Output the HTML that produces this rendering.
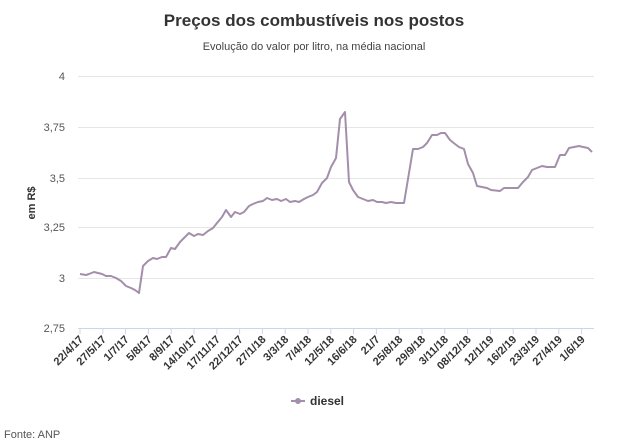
<!DOCTYPE html>
<html><head><meta charset="utf-8"><style>
html,body{margin:0;padding:0;background:#fff;}
svg{display:block;font-family:"Liberation Sans",sans-serif;}
</style></head><body>
<svg width="627" height="447" viewBox="0 0 627 447">
<text x="314" y="26" text-anchor="middle" font-size="17" font-weight="bold" fill="#333">Preços dos combustíveis nos postos</text>
<text x="314" y="50" text-anchor="middle" font-size="11" fill="#444">Evolução do valor por litro, na média nacional</text>
<g stroke="#e6e6e6" stroke-width="1">
<line x1="78" x2="594" y1="76.5" y2="76.5"/>
<line x1="78" x2="594" y1="127.5" y2="127.5"/>
<line x1="78" x2="594" y1="178.5" y2="178.5"/>
<line x1="78" x2="594" y1="227.5" y2="227.5"/>
<line x1="78" x2="594" y1="278.5" y2="278.5"/>
</g>
<line x1="78" x2="594" y1="328.5" y2="328.5" stroke="#ccd6eb"/>
<g font-size="11" fill="#555" text-anchor="end">
<text x="65" y="80">4</text>
<text x="65" y="131">3,75</text>
<text x="65" y="182">3,5</text>
<text x="65" y="231">3,25</text>
<text x="65" y="282">3</text>
<text x="65" y="332">2,75</text>
</g>
<text transform="translate(35,203) rotate(-90)" text-anchor="middle" font-size="11" font-weight="bold" fill="#333">em R$</text>
<g stroke="#ccd6eb">
<line x1="80" x2="80" y1="328" y2="334"/><line x1="102.8" x2="102.8" y1="328" y2="334"/><line x1="125.6" x2="125.6" y1="328" y2="334"/><line x1="148.4" x2="148.4" y1="328" y2="334"/><line x1="171.2" x2="171.2" y1="328" y2="334"/><line x1="194" x2="194" y1="328" y2="334"/><line x1="216.8" x2="216.8" y1="328" y2="334"/><line x1="239.6" x2="239.6" y1="328" y2="334"/><line x1="262.4" x2="262.4" y1="328" y2="334"/><line x1="285.2" x2="285.2" y1="328" y2="334"/><line x1="308" x2="308" y1="328" y2="334"/><line x1="330.8" x2="330.8" y1="328" y2="334"/><line x1="353.6" x2="353.6" y1="328" y2="334"/><line x1="376.4" x2="376.4" y1="328" y2="334"/><line x1="399.2" x2="399.2" y1="328" y2="334"/><line x1="422" x2="422" y1="328" y2="334"/><line x1="444.8" x2="444.8" y1="328" y2="334"/><line x1="467.6" x2="467.6" y1="328" y2="334"/><line x1="490.4" x2="490.4" y1="328" y2="334"/><line x1="513.2" x2="513.2" y1="328" y2="334"/><line x1="536" x2="536" y1="328" y2="334"/><line x1="558.8" x2="558.8" y1="328" y2="334"/><line x1="581.6" x2="581.6" y1="328" y2="334"/>
</g>
<g font-size="11" font-weight="bold" fill="#333" text-anchor="end">
<text transform="translate(84,340) rotate(-45)">22/4/17</text>
<text transform="translate(106.8,340) rotate(-45)">27/5/17</text>
<text transform="translate(129.6,340) rotate(-45)">1/7/17</text>
<text transform="translate(152.4,340) rotate(-45)">5/8/17</text>
<text transform="translate(175.2,340) rotate(-45)">8/9/17</text>
<text transform="translate(198,340) rotate(-45)">14/10/17</text>
<text transform="translate(220.8,340) rotate(-45)">17/11/17</text>
<text transform="translate(243.6,340) rotate(-45)">22/12/17</text>
<text transform="translate(266.4,340) rotate(-45)">27/1/18</text>
<text transform="translate(289.2,340) rotate(-45)">3/3/18</text>
<text transform="translate(312,340) rotate(-45)">7/4/18</text>
<text transform="translate(334.8,340) rotate(-45)">12/5/18</text>
<text transform="translate(357.6,340) rotate(-45)">16/6/18</text>
<text transform="translate(380.4,340) rotate(-45)">21/7</text>
<text transform="translate(403.2,340) rotate(-45)">25/8/18</text>
<text transform="translate(426,340) rotate(-45)">29/9/18</text>
<text transform="translate(448.8,340) rotate(-45)">3/11/18</text>
<text transform="translate(471.6,340) rotate(-45)">08/12/18</text>
<text transform="translate(494.4,340) rotate(-45)">12/1/19</text>
<text transform="translate(517.2,340) rotate(-45)">16/2/19</text>
<text transform="translate(540,340) rotate(-45)">23/3/19</text>
<text transform="translate(562.8,340) rotate(-45)">27/4/19</text>
<text transform="translate(585.6,340) rotate(-45)">1/6/19</text>
</g>
<polyline fill="none" stroke="#a38fab" stroke-width="2" stroke-linejoin="round" points="80,274 86,275 89,274 94,272 98,273 102,274 106,276 111,276 116,278 121,281 126,286 131,288 135,290 139,293 143,266 148,261 153,258 157,259 162,257 166,257 171,248 175,249 180,242 184,238 189,233 194,236 198,234 203,235 208,231 213,228 217,223 222,217 226,210 231,217 235,212 240,214 244,212 249,206 253,204 258,202 263,201 267,198 272,200 277,199 281,201 286,199 290,202 295,201 299,202 304,199 308,197 313,195 317,192 322,183 327,178 331,167 336,158 340,119 345,112 349,182 353,190 358,197 363,199 368,201 373,200 377,202 382,202 386,203 391,202 396,203 404,203 413,149 418,149 423,147 427,143 432,135 437,135 441,133 445,133 450,140 455,144 459,147 464,149 468,164 473,173 477,186 482,187 487,188 491,190 500,191 504,188 509,188 518,188 523,182 528,177 532,170 537,168 542,166 547,167 555,167 560,155 565,155 569,148 574,147 579,146 583,147 588,148 592,152"/>
<line x1="291" x2="305" y1="401" y2="401" stroke="#a38fab" stroke-width="2"/>
<circle cx="298" cy="401" r="3" fill="#a38fab"/>
<text x="310" y="405" font-size="12" font-weight="bold" fill="#333">diesel</text>
<text x="4" y="438" font-size="11" fill="#555">Fonte: ANP</text>
</svg>
</body></html>
